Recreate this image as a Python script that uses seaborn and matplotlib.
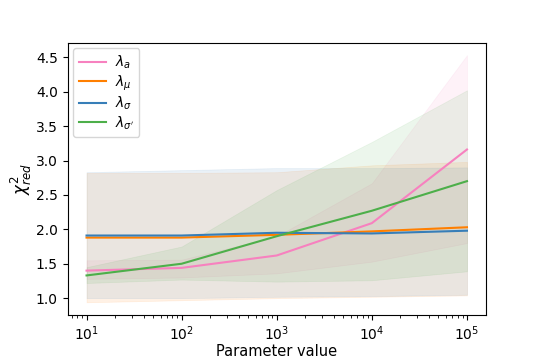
import numpy as np
import pandas as pd
import seaborn as sns
import matplotlib.pyplot as plt

# parameter values (log-spaced)
param_values = [1e1, 1e2, 1e3, 1e4, 1e5]

labels = [r"$\lambda_a$", r"$\lambda_\mu$", r"$\lambda_\sigma$", r"$\lambda_{\sigma'}$"]

# mean reduced chi^2 per lambda
mean_a = [1.40, 1.44, 1.62, 2.09, 3.16]
mean_mu = [1.88, 1.88, 1.92, 1.97, 2.03]
mean_sigma = [1.91, 1.91, 1.95, 1.94, 1.98]
mean_sigmap = [1.33, 1.50, 1.90, 2.27, 2.70]

# band lower / upper
low_a = [1.28, 1.30, 1.36, 1.53, 1.80]
high_a = [1.55, 1.56, 1.90, 2.67, 4.53]
low_mu = [0.94, 0.97, 1.00, 1.02, 1.04]
high_mu = [2.82, 2.82, 2.83, 2.93, 2.98]
low_sigma = [1.00, 1.00, 1.02, 1.03, 1.05]
high_sigma = [2.83, 2.86, 2.89, 2.89, 2.90]
low_sigmap = [1.22, 1.27, 1.24, 1.26, 1.39]
high_sigmap = [1.45, 1.75, 2.57, 3.27, 4.02]

means = [mean_a, mean_mu, mean_sigma, mean_sigmap]
lows = [low_a, low_mu, low_sigma, low_sigmap]
highs = [high_a, high_mu, high_sigma, high_sigmap]

colors = ["#f781bf", "#ff7f00", "#377eb8", "#4daf4a"]

df = pd.concat([
    pd.DataFrame({"x": param_values, "chi2": m, "param": lab})
    for m, lab in zip(means, labels)
])

fig, ax = plt.subplots(figsize=(5.4, 3.6), dpi=100)
fig.subplots_adjust(left=0.125, right=0.9, top=0.881, bottom=0.126)

sns.lineplot(data=df, x="x", y="chi2", hue="param", palette=colors, ax=ax, linewidth=1.5)
for lo, hi, c in zip(lows, highs, colors):
    ax.fill_between(param_values, lo, hi, color=c, alpha=0.1, linewidth=0.5)

ax.set_xscale("log")
ax.set_xlabel("Parameter value", fontsize=10.5, labelpad=1)
ax.set_ylabel(r"$\chi^2_{red}$", fontsize=12, labelpad=1)
ax.legend(loc="upper left", fontsize=10, labelspacing=0.15, handletextpad=0.6,
          borderaxespad=0.4)

fig.savefig("out.png", dpi=100)
